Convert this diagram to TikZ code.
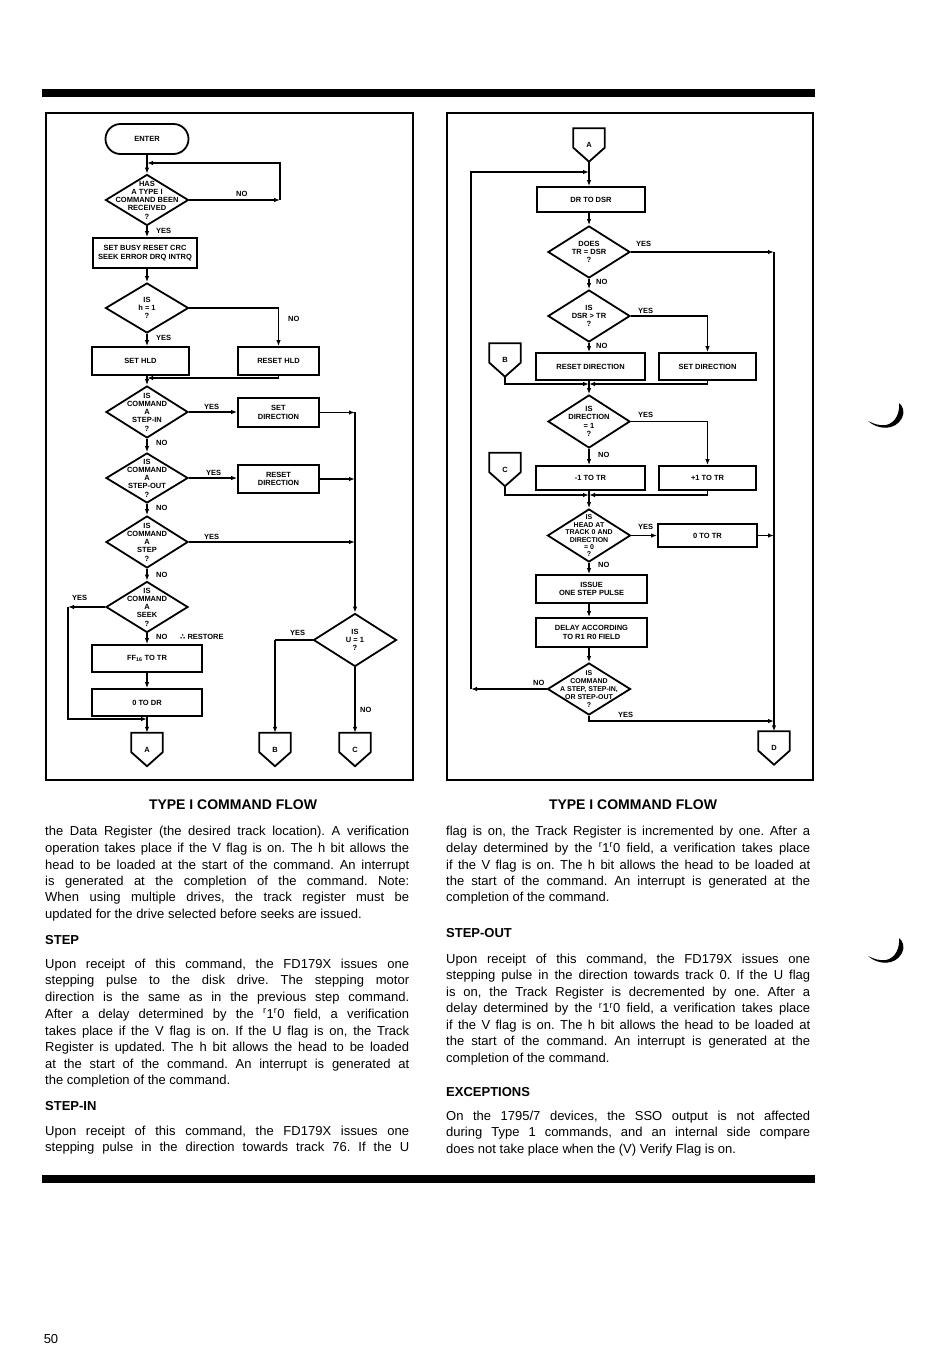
\documentclass[tikz,border=0pt]{standalone}
\usepackage{fontspec}
\setmainfont{Liberation Sans}
\newfontfamily\symfont{DejaVu Sans}
\usetikzlibrary{shapes.geometric,arrows.meta}
\frenchspacing
\newcommand\dfont{\fontsize{7.5}{8.3}\selectfont\bfseries}
\newcommand\bodyfont{\fontsize{13}{16.5}\selectfont\frenchspacing}
\newcommand\pentag[1]{\draw[line width=1.8pt] (#1.north west) -- (#1.north east) -- ([yshift=14pt]#1.south east) -- (#1.south) -- ([yshift=14pt]#1.south west) -- cycle;}
\newcommand\jline[3]{\node[txtl] (#1) at (#2) {\makebox[364pt][s]{#3}};}
\newcommand\pline[3]{\node[txtl] (#1) at (#2) {#3};}
\newcommand\rr{\textsuperscript{r}1\textsuperscript{r}0}
\tikzset{
  ln/.style={line width=1.3pt},
  arr/.style={line width=1.3pt,-{Latex[length=6pt,width=4.5pt]}},
  bx/.style={draw,line width=1.8pt,inner sep=0pt,align=center,font=\dfont},
  dia/.style={draw,diamond,line width=1.8pt,inner sep=0pt},
  dtxt/.style={align=center,font=\dfont,inner sep=0pt},
  lbl/.style={font=\dfont,inner sep=0pt,anchor=west},
  conn/.style={inner sep=0pt,minimum width=31pt,minimum height=33pt,font=\dfont},
  txtl/.style={anchor=base west,inner sep=0pt,font=\bodyfont},
  head/.style={anchor=base west,inner sep=0pt,font=\bodyfont\bfseries},
  captxt/.style={inner sep=0pt,font=\fontsize{14}{16}\selectfont\bfseries},
}
\begin{document}
\begin{tikzpicture}[x=1pt,y=-1pt]
\useasboundingbox (0,0) rectangle (950,1359);
\fill[white] (0,0) rectangle (950,1359);
% black bars
\fill[black] (42,89) rectangle (815,97);
\fill[black] (42,1175) rectangle (815,1183);
% frames
\draw[line width=1.5pt] (46,113) rectangle (413,780);
\draw[line width=1.5pt] (447,113) rectangle (813,780);

% ================= LEFT FLOWCHART =================
\node[bx,rounded corners=15pt,minimum width=83pt,minimum height=30pt] (enter) at (147,139) {ENTER};
\coordinate (j1) at (147,163);
\node[dia,minimum width=83pt,minimum height=51pt] (d1) at (147,200) {};
\node[dtxt] (d1t) at (147,200) {HAS\\A TYPE I\\COMMAND BEEN\\RECEIVED\\?};
\coordinate (n1) at (280,200);
\coordinate (n1u) at (280,163);
\draw[arr] (enter) -- (d1);
\draw[arr] (d1.east) -- (n1);
\draw[arr] (n1) -- (n1u) -- (j1);
\node[lbl] (l1) at (236,194) {NO};
\node[lbl] (l2) at (156,231) {YES};
\node[bx,minimum width=104pt,minimum height=30pt] (b1) at (145,253) {SET BUSY RESET CRC\\SEEK ERROR DRQ INTRQ};
\draw[arr] (d1.south) -- (d1.south |- b1.north);

\node[dia,minimum width=83pt,minimum height=50pt] (d2) at (147,308) {};
\node[dtxt] (d2t) at (147,308) {IS\\h = 1\\?};
\draw[arr] (b1.south -| d2.north) -- (d2.north);
\node[bx,minimum width=97pt,minimum height=28pt] (b2) at (140.5,361) {SET HLD};
\node[bx,minimum width=81pt,minimum height=28pt] (b3) at (278.5,361) {RESET HLD};
\draw[arr] (d2.south) -- (d2.south |- b2.north);
\draw[arr] (d2.east) -| (b3.north);
\node[lbl] (l3) at (156,338) {YES};
\node[lbl] (l4) at (288,319) {NO};
\coordinate (m1) at (147,378);
\draw[arr] (b3.south) |- (m1);

\node[dia,minimum width=82pt,minimum height=52pt] (d3) at (147,412) {};
\node[dtxt] (d3t) at (147,412) {IS\\COMMAND\\A\\STEP-IN\\?};
\draw[arr] (b2.south -| d3.north) -- (d3.north);
\node[bx,minimum width=81pt,minimum height=29pt] (b4) at (278.5,412.5) {SET\\DIRECTION};
\draw[arr] (d3.east) -- (d3.east -| b4.west);
\coordinate (r1) at (355,412);
\coordinate (r2) at (355,479);
\coordinate (r3) at (355,542);
\draw[arr] (b4.east) -- (b4.east -| r1);
\node[lbl] (l5) at (204,407) {YES};

\node[dia,minimum width=82pt,minimum height=50pt] (d4) at (147,478) {};
\node[dtxt] (d4t) at (147,478) {IS\\COMMAND\\A\\STEP-OUT\\?};
\draw[arr] (d3.south) -- (d4.north);
\node[lbl] (l6) at (156,443) {NO};
\node[bx,minimum width=81pt,minimum height=28pt] (b5) at (278.5,479) {RESET\\DIRECTION};
\draw[arr] (d4.east) -- (d4.east -| b5.west);
\draw[arr] (b5.east) -- (r2);
\node[lbl] (l7) at (206,473) {YES};

\node[dia,minimum width=82pt,minimum height=52pt] (d5) at (147,542) {};
\node[dtxt] (d5t) at (147,542) {IS\\COMMAND\\A\\STEP\\?};
\draw[arr] (d4.south) -- (d5.north);
\node[lbl] (l8) at (156,508) {NO};
\draw[arr] (d5.east) -- (r3);
\node[lbl] (l9) at (204,537) {YES};

\node[dia,minimum width=82pt,minimum height=51pt] (d6) at (147,607) {};
\node[dtxt] (d6t) at (147,607) {IS\\COMMAND\\A\\SEEK\\?};
\draw[arr] (d5.south) -- (d6.north);
\node[lbl] (l10) at (156,575) {NO};
\coordinate (s1) at (68,607);
\coordinate (s2) at (68,719);
\coordinate (j2) at (147,719);
\draw[arr] (d6.west) -- (s1);
\draw[arr] (s1) -- (s2) -- (j2);
\node[lbl] (l11) at (72,598) {YES};
\node[bx,minimum width=110pt,minimum height=27pt] (bFF) at (147,658.5) {FF\textsubscript{16} TO TR};
\draw[arr] (d6.south) -- (bFF.north);
\node[lbl] (l12) at (156,637) {NO};
\node[lbl] (l13) at (180,637) {{\symfont∴} RESTORE};
\node[bx,minimum width=110pt,minimum height=27pt] (b0DR) at (147,702.5) {0 TO DR};
\draw[arr] (bFF) -- (b0DR);
\node[conn] (cA) at (147,749.5) {A};
\pentag{cA}
\draw[arr] (b0DR.south) -- (cA.north);

\node[dia,minimum width=83pt,minimum height=53pt] (dU) at (355,640) {};
\node[dtxt] (dUt) at (355,640) {IS\\U = 1\\?};
\draw[arr] (r1) -- (dU.north);
\node[conn] (cB) at (275,749.5) {B};
\pentag{cB}
\node[conn] (cC) at (355,749.5) {C};
\pentag{cC}
\coordinate (u1) at (275,640);
\draw[ln] (dU.west) -- (u1);
\draw[arr] (u1) -- (cB.north);
\node[lbl] (l14) at (290,633) {YES};
\draw[arr] (dU.south) -- (cC.north);
\node[lbl] (l15) at (360,710) {NO};

% ================= RIGHT FLOWCHART =================
\node[conn] (rA) at (589,145) {A};
\pentag{rA}
\coordinate (rJ) at (589,172);
\node[bx,minimum width=108pt,minimum height=25pt] (bDR) at (591,199.5) {DR TO DSR};
\draw[arr] (rA.south) -- (rA.south |- bDR.north);

\node[dia,minimum width=82pt,minimum height=52pt] (rd1) at (589,252) {};
\node[dtxt] (rd1t) at (589,252) {DOES\\TR = DSR\\?};
\draw[arr] (bDR.south -| rd1.north) -- (rd1.north);
\coordinate (R1) at (774,252);
\node[lbl] (rl1) at (636,244) {YES};
\node[lbl] (rl2) at (596,282) {NO};

\node[dia,minimum width=82pt,minimum height=52pt] (rd2) at (589,316) {};
\node[dtxt] (rd2t) at (589,316) {IS\\DSR > TR\\?};
\draw[arr] (rd1.south) -- (rd2.north);
\node[bx,minimum width=109pt,minimum height=27pt] (bReset) at (590.5,366.5) {RESET DIRECTION};
\node[bx,minimum width=97pt,minimum height=27pt] (bSetR) at (707.5,366.5) {SET DIRECTION};
\draw[arr] (rd2.east) -| (bSetR.north);
\draw[arr] (rd2.south) -- (rd2.south |- bReset.north);
\node[lbl] (rl3) at (638,311) {YES};
\node[lbl] (rl4) at (596,346) {NO};
\node[conn] (rB) at (505,360) {B};
\pentag{rB}
\coordinate (M2) at (589,384);
\draw[arr] (rB.south) |- (M2);
\draw[arr] (bSetR.south) |- (M2);
\draw[ln] (bReset.south -| M2) -- (M2);

\node[dia,minimum width=82pt,minimum height=53pt] (rd3) at (589,421.5) {};
\node[dtxt] (rd3t) at (589,421.5) {IS\\DIRECTION\\= 1\\?};
\draw[arr] (M2) -- (rd3.north);
\node[bx,minimum width=109pt,minimum height=24pt] (bMinus) at (590.5,478) {-1 TO TR};
\node[bx,minimum width=97pt,minimum height=24pt] (bPlus) at (707.5,478) {+1 TO TR};
\draw[arr] (rd3.east) -| (bPlus.north);
\draw[arr] (rd3.south) -- (rd3.south |- bMinus.north);
\node[lbl] (rl5) at (638,415) {YES};
\node[lbl] (rl6) at (598,455) {NO};
\node[conn] (rC) at (505,469.5) {C};
\pentag{rC}
\coordinate (M3) at (589,495);
\draw[arr] (rC.south) |- (M3);
\draw[arr] (bPlus.south) |- (M3);
\draw[ln] (bMinus.south -| M3) -- (M3);

\node[dia,minimum width=83pt,minimum height=53pt] (rd4) at (589,535.5) {};
\node[dtxt,font=\fontsize{7}{7.4}\selectfont\bfseries] (rd4t) at (589,536) {IS\\HEAD AT\\TRACK 0 AND\\DIRECTION\\= 0\\?};
\draw[arr] (M3) -- (rd4.north);
\node[bx,minimum width=99pt,minimum height=23pt] (b0TR) at (707.5,535.5) {0 TO TR};
\draw[arr] (rd4.east) -- (rd4.east -| b0TR.west);
\draw[arr] (b0TR.east) -- (b0TR.east -| R1);
\node[lbl] (rl7) at (638,527) {YES};
\node[lbl] (rl8) at (598,565) {NO};
\node[bx,minimum width=111pt,minimum height=28pt] (bIssue) at (591.5,589) {ISSUE\\ONE STEP PULSE};
\draw[arr] (rd4.south) -- (rd4.south |- bIssue.north);
\node[bx,minimum width=111pt,minimum height=29pt] (bDelay) at (591.5,632.5) {DELAY ACCORDING\\TO R1 R0 FIELD};

\node[dia,minimum width=83pt,minimum height=52pt] (rd5) at (589,689) {};
\node[dtxt,font=\fontsize{7}{7.8}\selectfont\bfseries] (rd5t) at (589,689) {IS\\COMMAND\\A STEP, STEP-IN,\\OR STEP-OUT\\?};
\draw[arr] (bIssue.south -| rd5.north) -- (bDelay.north -| rd5.north);
\draw[arr] (bDelay.south -| rd5.north) -- (rd5.north);
\coordinate (L1) at (471,689);
\coordinate (L2) at (471,172);
\draw[arr] (rd5.west) -- (L1);
\draw[arr] (L1) -- (L2) -- (rJ);
\node[lbl] (rl9) at (533,683) {NO};
\coordinate (Y5) at (589,721);
\coordinate (Y5r) at (774,721);
\draw[arr] (rd5.south) -- (Y5) -- (Y5r);
\node[lbl] (rl10) at (618,715) {YES};
\node[conn] (rD) at (774,748) {D};
\pentag{rD}
\draw[arr] (rd1.east) -- (R1);
\draw[arr] (R1) -- (rD.north);

% captions
\node[captxt] (cap1) at (233,805) {TYPE I COMMAND FLOW};
\node[captxt] (cap2) at (633,805) {TYPE I COMMAND FLOW};

% ================= TEXT: LEFT COLUMN =================
\jline{a1}{45,835.7}{the Data Register (the desired track location). A verification}
\jline{a2}{45,852.3}{operation takes place if the V flag is on. The h bit allows the}
\jline{a3}{45,869}{head to be loaded at the start of the command. An interrupt}
\jline{a4}{45,885.7}{is generated at the completion of the command. Note:}
\jline{a5}{45,901.7}{When using multiple drives, the track register must be}
\pline{a6}{45,918.3}{updated for the drive selected before seeks are issued.}
\node[head] (h1) at (45,944) {STEP};
\jline{a7}{45,968.3}{Upon receipt of this command, the FD179X issues one}
\jline{a8}{45,984.5}{stepping pulse to the disk drive. The stepping motor}
\jline{a9}{45,1001.5}{direction is the same as in the previous step command.}
\jline{a10}{45,1018}{After a delay determined by the \rr{} field, a verification}
\jline{a11}{45,1035}{takes place if the V flag is on. If the U flag is on, the Track}
\jline{a12}{45,1051.5}{Register is updated. The h bit allows the head to be loaded}
\jline{a13}{45,1068}{at the start of the command. An interrupt is generated at}
\pline{a14}{45,1084.5}{the completion of the command.}
\node[head] (h2) at (45,1110.5) {STEP-IN};
\jline{a15}{45,1135}{Upon receipt of this command, the FD179X issues one}
\jline{a16}{45,1151.5}{stepping pulse in the direction towards track 76. If the U}

% ================= TEXT: RIGHT COLUMN =================
\jline{b1t}{446,835.7}{flag is on, the Track Register is incremented by one. After a}
\jline{b2t}{446,852.3}{delay determined by the \rr{} field, a verification takes place}
\jline{b3t}{446,869}{if the V flag is on. The h bit allows the head to be loaded at}
\jline{b4t}{446,885.5}{the start of the command. An interrupt is generated at the}
\pline{b5t}{446,901.5}{completion of the command.}
\node[head] (h3) at (446,937.5) {STEP-OUT};
\jline{b6t}{446,963}{Upon receipt of this command, the FD179X issues one}
\jline{b7t}{446,979.5}{stepping pulse in the direction towards track 0. If the U flag}
\jline{b8t}{446,996}{is on, the Track Register is decremented by one. After a}
\jline{b9t}{446,1012.5}{delay determined by the \rr{} field, a verification takes place}
\jline{b10t}{446,1029}{if the V flag is on. The h bit allows the head to be loaded at}
\jline{b11t}{446,1045.5}{the start of the command. An interrupt is generated at the}
\pline{b12t}{446,1062}{completion of the command.}
\node[head] (h4) at (446,1096) {EXCEPTIONS};
\jline{b13t}{446,1120}{On the 1795/7 devices, the SSO output is not affected}
\jline{b14t}{446,1136.5}{during Type 1 commands, and an internal side compare}
\pline{b15t}{446,1153}{does not take place when the (V) Verify Flag is on.}

% page number
\node[inner sep=0pt,font=\bodyfont] (pg) at (51,1339) {50};

% margin marks
\fill[black] (868,421) .. controls (878,430) and (895,431) .. (902,418) .. controls (905,412) and (903,406) .. (899,403) .. controls (900,412) and (896,423) .. (886,425) .. controls (880,426) and (874,424) .. cycle;
\fill[black] (868,956) .. controls (878,965) and (895,966) .. (902,953) .. controls (905,947) and (903,941) .. (899,938) .. controls (900,947) and (896,958) .. (886,960) .. controls (880,961) and (874,959) .. cycle;
\end{tikzpicture}
\end{document}
